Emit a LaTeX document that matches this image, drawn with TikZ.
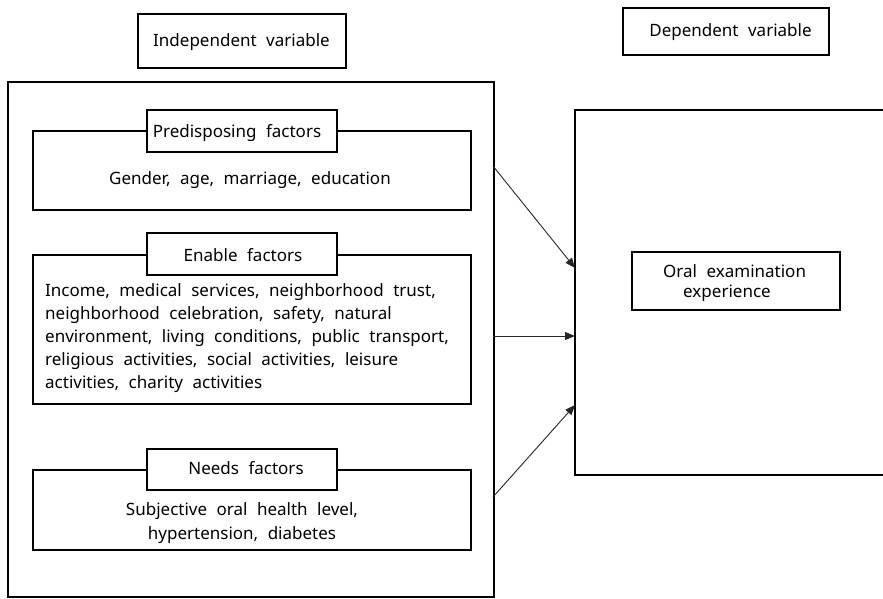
\documentclass[tikz,border=0pt]{standalone}
\usepackage{fontspec}
\setmainfont{Noto Sans}
\usetikzlibrary{arrows.meta}
\newcommand{\dfont}{\fontsize{17}{23}\selectfont\spaceskip=9.5pt\relax}
\newcommand{\dfontb}{\fontsize{17}{24}\selectfont\spaceskip=9.5pt\relax}
\newcommand{\dfontc}{\fontsize{17}{20}\selectfont\spaceskip=9.5pt\relax}
\begin{document}
\begin{tikzpicture}[x=1pt,y=-1pt,
  box/.style={draw, line width=2pt, inner sep=0pt, anchor=north west},
  hdr/.style={draw, line width=2pt, fill=white, inner sep=0pt, anchor=north west},
  txt/.style={font=\dfont, inner sep=0pt, anchor=base, text=black},
  conn/.style={line width=0.9pt, draw=black!85, -{Triangle[length=10pt,width=8pt]}}]
\useasboundingbox (0,0) rectangle (883,598);
% top labels
\node[hdr, minimum width=208pt, minimum height=54pt] (indep) at (137,13) {};
\node[txt] (indept) at (241.5,46) {Independent variable};
\node[hdr, minimum width=206pt, minimum height=47pt] (dep) at (622,7) {};
\node[txt] (dept) at (730.5,36) {Dependent variable};
% outer left box
\node[box, minimum width=486pt, minimum height=515pt] (left) at (7,81) {};
% predisposing
\node[box, minimum width=438pt, minimum height=79pt] (pre) at (32,130) {};
\node[hdr, minimum width=190pt, minimum height=42pt] (preh) at (146,109) {};
\node[txt] (preht) at (237,137) {Predisposing factors};
\node[txt] (pret) at (250,184) {Gender, age, marriage, education};
% enable
\node[box, minimum width=438pt, minimum height=149pt] (ena) at (32,254) {};
\node[hdr, minimum width=190pt, minimum height=42pt] (enah) at (146,232) {};
\node[txt] (enaht) at (243,261) {Enable factors};
\node[txt, anchor=base west, align=left] (enat) at (45,388) {Income, medical services, neighborhood trust,\\neighborhood celebration, safety, natural\\environment, living conditions, public transport,\\religious activities, social activities, leisure\\activities, charity activities};
% needs
\node[box, minimum width=438pt, minimum height=80pt] (need) at (32,469) {};
\node[hdr, minimum width=190pt, minimum height=41pt] (needh) at (146,448) {};
\node[txt] (needht) at (246,474) {Needs factors};
\node[txt, align=center, font=\dfontb] (needt) at (242,539) {Subjective oral health level,\\hypertension, diabetes};
% right box
\draw[line width=1.8pt] (884,110) -- (575,110) coordinate (rtl) -- (575,475) coordinate (rbl) -- (884,475);
\node[box, minimum width=208pt, minimum height=58pt, line width=1.6pt] (oral) at (631,251) {};
\node[txt, anchor=base west, align=left, font=\dfontc] (oralt) at (663,297) {Oral examination\\\hspace*{20pt}experience};
% arrows
\coordinate (a1s) at (493,166); \coordinate (a1e) at (575,268);
\coordinate (a2s) at (493,336); \coordinate (a2e) at (575,336);
\coordinate (a3s) at (493,497); \coordinate (a3e) at (575,405);
\draw[conn] (a1s) -- (a1e);
\draw[conn] (a2s) -- (a2e);
\draw[conn] (a3s) -- (a3e);
\end{tikzpicture}
\end{document}
